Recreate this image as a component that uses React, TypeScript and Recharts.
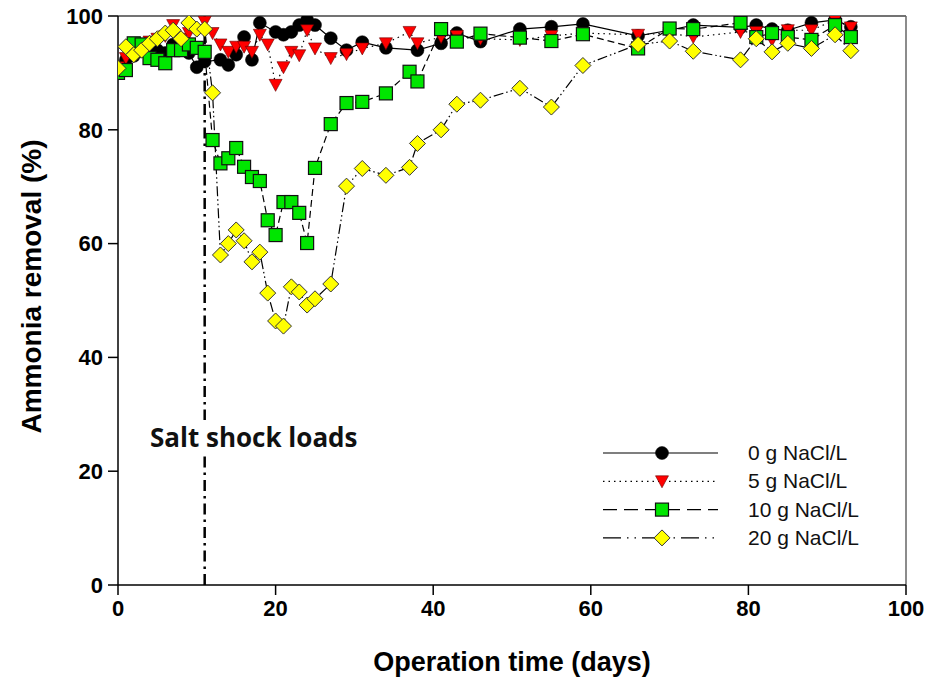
import React from "react";
import {
  ComposedChart,
  Line,
  XAxis,
  YAxis,
  ReferenceLine,
  Label,
} from "recharts";

const days0 = [0, 1, 2, 3, 4, 5, 6, 7, 8, 9, 10, 11, 13, 14, 15, 16, 17, 18, 20, 21, 22, 23, 24, 25, 27, 29, 31, 34, 38, 41, 43, 46, 51, 55, 59, 66, 70, 73, 79, 81, 83, 85, 88, 91, 93];
const vals0 = [91, 92.3, 93, 93.8, 93.5, 94, 93.5, 95, 94.5, 93.5, 91, 92, 92.3, 91.4, 93.2, 96.3, 92.3, 98.8, 97.2, 96.7, 97.2, 98.4, 99.3, 98.4, 96.1, 94, 95.4, 94.4, 94, 95.2, 97, 95.5, 97.7, 98.1, 98.6, 96.5, 97.5, 98.4, 98, 98.4, 97.7, 97.5, 98.8, 99.3, 98.1];

const days5 = [0, 1, 2, 3, 4, 5, 6, 7, 8, 9, 10, 11, 12, 13, 14, 15, 16, 17, 18, 19, 20, 21, 22, 23, 24, 25, 27, 29, 31, 34, 37, 38, 41, 43, 46, 51, 55, 59, 66, 70, 73, 79, 81, 83, 85, 88, 91, 93];
const vals5 = [91, 92.6, 94, 95, 95.5, 96, 96.5, 98.4, 96, 97, 97.5, 99, 97, 95, 93.7, 94.6, 94.6, 93.7, 96.7, 95, 87.9, 91, 93.7, 93.1, 97.5, 94.3, 92.6, 93.3, 94.3, 95.2, 97.2, 95.2, 96.3, 96.5, 96, 95.8, 96.5, 97, 96.7, 97, 96.3, 97.2, 97.2, 95.8, 97.5, 97.5, 99.3, 98];

const days10 = [0, 1, 2, 3, 4, 5, 6, 7, 8, 9, 10, 11, 12, 13, 14, 15, 16, 17, 18, 19, 20, 21, 22, 23, 24, 25, 27, 29, 31, 34, 37, 38, 41, 43, 46, 51, 55, 59, 66, 70, 73, 79, 81, 83, 85, 88, 91, 93];
const vals10 = [90, 90.5, 95.2, 95, 92.6, 92.3, 91.7, 94, 94, 95, 94.4, 93.7, 78.2, 74.1, 75, 76.8, 73.5, 71.7, 71, 64.1, 61.5, 67.3, 67.3, 65.4, 60.1, 73.3, 81, 84.7, 84.9, 86.4, 90.2, 88.5, 97.7, 95.5, 96.9, 96.2, 95.6, 96.8, 94.3, 97.8, 97.7, 98.8, 96.3, 97, 96.3, 95.8, 98.4, 96.3];

const days20 = [0, 1, 2, 3, 4, 5, 6, 7, 8, 9, 10, 11, 12, 13, 14, 15, 16, 17, 18, 19, 20, 21, 22, 23, 24, 25, 27, 29, 31, 34, 37, 38, 41, 43, 46, 51, 55, 59, 66, 70, 73, 79, 81, 83, 85, 88, 91, 93];
const vals20 = [90.8, 94.6, 93.2, 94, 95.2, 96, 97, 97.5, 96, 98.8, 97.7, 97.7, 86.5, 58, 60, 62.4, 60.5, 56.8, 58.5, 51.3, 46.4, 45.5, 52.4, 51.5, 49.2, 50.3, 52.9, 70.1, 73.2, 72, 73.4, 77.6, 80, 84.5, 85.2, 87.3, 84, 91.3, 95, 95.6, 93.8, 92.3, 96, 93.7, 95.2, 94.3, 96.7, 93.9];

const xTicks = [0, 20, 40, 60, 80, 100];
const yTicks = [0, 20, 40, 60, 80, 100];
const seriesNames = ["0 g NaCl/L", "5 g NaCl/L", "10 g NaCl/L", "20 g NaCl/L"];
const shockDay = 11;

const toData = (d: number[], v: number[]) => d.map((x, i) => ({ x, y: v[i] }));
const data0 = toData(days0, vals0);
const data5 = toData(days5, vals5);
const data10 = toData(days10, vals10);
const data20 = toData(days20, vals20);

type Kind = "circle" | "tri" | "square" | "diamond";

function Marker({ kind, cx, cy }: { kind: Kind; cx: number; cy: number }) {
  if (kind === "circle") return <circle cx={cx} cy={cy} r={6.5} fill="#000" stroke="#000" strokeWidth={0.5} />;
  if (kind === "tri")
    return (
      <polygon
        points={`${cx - 6.5},${cy - 5.5} ${cx + 6.5},${cy - 5.5} ${cx},${cy + 6.5}`}
        fill="#ff0000"
        stroke="#600"
        strokeWidth={0.6}
      />
    );
  if (kind === "square")
    return <rect x={cx - 6.5} y={cy - 6.5} width={13} height={13} fill="#00e600" stroke="#111" strokeWidth={1.2} />;
  return (
    <polygon
      points={`${cx},${cy - 8} ${cx + 8},${cy} ${cx},${cy + 8} ${cx - 8},${cy}`}
      fill="#ffff00"
      stroke="#333"
      strokeWidth={1}
    />
  );
}

const makeDot = (kind: Kind) => (props: any) => {
  const { cx, cy, index } = props;
  if (cx == null || cy == null) return <g key={`${kind}-${index}`} />;
  return (
    <g key={`${kind}-${index}`}>
      <Marker kind={kind} cx={cx} cy={cy} />
    </g>
  );
};

const legendItems: { kind: Kind; dash: string }[] = [
  { kind: "circle", dash: "" },
  { kind: "tri", dash: "1.5 4" },
  { kind: "square", dash: "14 7" },
  { kind: "diamond", dash: "18 6 1.5 6 1.5 6" },
];

const arial = "'Liberation Sans', Arial, sans-serif";

const tickFont = {
  fontFamily: arial,
  fontWeight: 700,
  fontSize: 22,
  fill: "#000",
};

function Overlay() {
  return (
    <svg width={930} height={678} style={{ position: "absolute", left: 0, top: 0, pointerEvents: "none" }}>
      <rect x={147} y={420} width={222} height={36} fill="#fff" />
      <text x={150} y={447} fontFamily="'Open Sans', 'Noto Sans', sans-serif" fontWeight={700} fontSize={26} fill="#111">
        Salt shock loads
      </text>
      {legendItems.map((it, i) => {
        const y = 453 + i * 28.3;
        return (
          <g key={i}>
            <line x1={603} x2={718} y1={y} y2={y} stroke="#000" strokeWidth={1.2} strokeDasharray={it.dash || undefined} />
            <Marker kind={it.kind} cx={662} cy={y} />
            <text x={748} y={y + 7} fontFamily={arial} fontSize={21} fill="#111">
              {seriesNames[i]}
            </text>
          </g>
        );
      })}
    </svg>
  );
}

export default function App() {
  return (
    <div style={{ position: "absolute", left: 0, top: 0, width: 930, height: 678, background: "#fff" }}>
      <ComposedChart width={930} height={678} margin={{ top: 16, right: 24, bottom: 0, left: 0 }}>
        <XAxis
          type="number"
          dataKey="x"
          domain={[0, 100]}
          ticks={xTicks}
          allowDataOverflow
          tickSize={10}
          tickMargin={5}
          height={93}
          stroke="#000"
          strokeWidth={1.5}
          tick={tickFont}
        >
          <Label
            content={(p: any) => {
              const vb = p.viewBox || { x: 118, y: 585, width: 788, height: 93 };
              return (
                <text x={vb.x + vb.width / 2} y={671} textAnchor="middle" fontFamily={arial} fontWeight={700} fontSize={27} fill="#000">
                  Operation time (days)
                </text>
              );
            }}
          />
        </XAxis>
        <YAxis
          type="number"
          domain={[0, 100]}
          ticks={yTicks}
          allowDataOverflow
          width={118}
          tickSize={10}
          tickMargin={5}
          stroke="#000"
          strokeWidth={1.5}
          tick={tickFont}
        >
          <Label
            content={(p: any) => {
              const vb = p.viewBox || { x: 0, y: 16, width: 118, height: 569 };
              const cx = 31;
              const cy = vb.y + vb.height / 2 - 14;
              return (
                <text x={cx} y={cy} transform={`rotate(-90 ${cx} ${cy})`} textAnchor="middle" dominantBaseline="central" fontFamily={arial} fontWeight={700} fontSize={28} fill="#000">
                  Ammonia removal (%)
                </text>
              );
            }}
          />
        </YAxis>
        <ReferenceLine y={100} stroke="#444" strokeWidth={1.5} />
        <ReferenceLine x={100} stroke="#666" strokeWidth={1.5} />
        <ReferenceLine x={shockDay} stroke="#000" strokeWidth={2.5} strokeDasharray="11 5 2.5 5" />
        <Line data={data0} dataKey="y" name={seriesNames[0]} stroke="#000" strokeWidth={1.2} dot={makeDot("circle")} activeDot={false} isAnimationActive={false} legendType="none" />
        <Line data={data5} dataKey="y" name={seriesNames[1]} stroke="#000" strokeWidth={1.2} strokeDasharray="1.5 4" dot={makeDot("tri")} activeDot={false} isAnimationActive={false} legendType="none" />
        <Line data={data10} dataKey="y" name={seriesNames[2]} stroke="#000" strokeWidth={1.2} strokeDasharray="7 4" dot={makeDot("square")} activeDot={false} isAnimationActive={false} legendType="none" />
        <Line data={data20} dataKey="y" name={seriesNames[3]} stroke="#000" strokeWidth={1.2} strokeDasharray="10 3 1.5 3 1.5 3" dot={makeDot("diamond")} activeDot={false} isAnimationActive={false} legendType="none" />
      </ComposedChart>
      <Overlay />
    </div>
  );
}
